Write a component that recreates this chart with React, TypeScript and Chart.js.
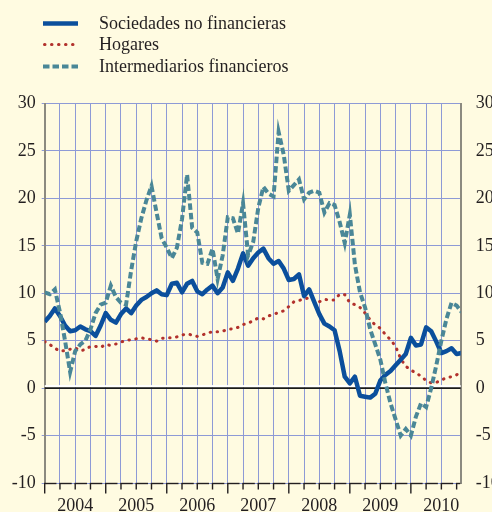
import React, { useEffect, useRef } from "react";
import { Chart, registerables } from "chart.js";

Chart.register(...registerables);

// Month index since January 2004 (0 = Jan 2004)
const months: number[] = Array.from({ length: 83 }, (_, i) => i);
const years = ["2004", "2005", "2006", "2007", "2008", "2009", "2010"];

const sociedades = [
  7.0, 7.6, 8.4, 7.6, 6.6, 6.0, 6.1, 6.5, 6.2, 6.0,
  5.5, 6.6, 7.9, 7.2, 6.9, 7.8, 8.4, 7.9, 8.7, 9.3,
  9.6, 10.0, 10.3, 9.9, 9.8, 11.0, 11.1, 10.1, 11.0, 11.3,
  10.2, 9.9, 10.4, 10.8, 10.0, 10.6, 12.2, 11.3, 12.6, 14.2,
  12.9, 13.7, 14.3, 14.7, 13.7, 13.1, 13.4, 12.6, 11.4, 11.5,
  12.0, 9.7, 10.4, 9.1, 7.8, 6.8, 6.5, 6.1, 3.9, 1.2,
  0.5, 1.2, -0.8, -0.9, -1.0, -0.6, 0.8, 1.4, 1.8, 2.4,
  3.0, 3.6, 5.3, 4.5, 4.6, 6.4, 6.0, 4.9, 3.7, 3.9,
  4.2, 3.6, 3.7,
];

const hogares = [
  4.9, 4.6, 4.2, 3.9, 3.95, 4.1, 4.25, 3.95, 4.05, 4.4,
  4.4, 4.3, 4.6, 4.5, 4.65, 4.85, 5.05, 5.1, 5.2, 5.3,
  5.2, 5.1, 4.95, 5.25, 5.3, 5.3, 5.4, 5.6, 5.7, 5.6,
  5.45, 5.6, 5.8, 5.95, 5.95, 6.0, 6.2, 6.25, 6.4, 6.7,
  6.85, 7.1, 7.4, 7.3, 7.6, 7.8, 7.95, 8.15, 8.6, 9.1,
  9.25, 9.35, 9.55, 9.3, 9.1, 9.35, 9.3, 9.3, 9.9, 9.85,
  9.0, 8.8, 8.5, 7.9, 7.2, 6.65, 6.3, 5.65, 5.1, 4.4,
  3.1, 2.3, 1.9, 1.6, 1.25, 0.8, 0.55, 0.6, 0.85, 1.1,
  1.2, 1.4, 1.8,
];

const intermediarios = [
  10.1, 9.9, 10.4, 8.0, 5.0, 1.7, 3.9, 4.6, 5.0, 6.2,
  7.9, 8.8, 9.0, 10.8, 9.6, 9.0, 8.8, 12.4, 15.5, 17.9,
  19.8, 21.3, 18.5, 15.8, 14.8, 13.7, 14.8, 17.8, 22.5, 16.9,
  16.4, 13.2, 13.1, 14.7, 11.5, 14.0, 18.0, 17.9, 16.3, 19.5,
  14.0, 15.4, 19.0, 21.2, 20.5, 20.2, 27.0, 24.6, 20.8, 21.4,
  22.0, 19.9, 20.6, 20.8, 20.6, 18.5, 19.5, 19.3, 17.5, 15.3,
  18.3, 13.0, 10.1, 8.5, 6.2, 4.6, 3.0, 0.5, -1.6, -3.3,
  -5.0, -4.3, -5.0, -3.0, -1.6, -2.0, 0.0, 2.4, 5.0, 7.3,
  9.0, 8.7, 8.0,
];

const BG = "#fffbe1";
const GRID = "#8e9ad6";
const AXIS_GRAY = "#8c8a80";
const TEXT = "#231f20";
const BLUE = "#0b4f9c";
const RED = "#b2312c";
const TEAL = "#4a8797";
const FONT = "'Liberation Serif', 'Times New Roman', serif";

const decorPlugin = {
  id: "decor",
  beforeDatasetsDraw(chart: any) {
    const { ctx, chartArea, scales } = chart;
    const y0 = scales.y.getPixelForValue(0);
    ctx.save();
    ctx.fillStyle = "#ffffff";
    ctx.fillRect(chartArea.left, y0 - 3, chartArea.right - chartArea.left, 2.2);
    ctx.strokeStyle = "#1a1a1a";
    ctx.lineWidth = 1.6;
    ctx.beginPath();
    ctx.moveTo(chartArea.left, y0);
    ctx.lineTo(chartArea.right, y0);
    ctx.stroke();
    ctx.restore();
  },
  afterDraw(chart: any) {
    const { ctx, chartArea, scales } = chart;
    const xs = scales.x;
    ctx.save();
    ctx.strokeStyle = TEXT;
    ctx.lineWidth = 1.4;
    const b = chartArea.bottom + 0.5;
    for (let q = 0; q <= 27; q++) {
      const px = xs.getPixelForValue(q * 3);
      const len = q % 4 === 0 ? 10 : 6;
      ctx.beginPath();
      ctx.moveTo(px, b);
      ctx.lineTo(px, b + len);
      ctx.stroke();
      const next = q < 27 ? xs.getPixelForValue(q * 3 + 3) : chartArea.right + 3;
      ctx.beginPath();
      ctx.moveTo(px - 0.7, b);
      ctx.lineTo(Math.min(next - 3.5, chartArea.right), b);
      ctx.stroke();
    }
    ctx.restore();

    // legend
    const order = [1, 2, 0];
    const rows = [23.5, 44.5, 66.5];
    ctx.save();
    order.forEach((di, k) => {
      const ds = chart.data.datasets[di];
      const y = rows[k];
      ctx.strokeStyle = ds.borderColor;
      ctx.lineWidth = ds.borderWidth;
      ctx.lineCap = ds.borderCapStyle || "butt";
      ctx.setLineDash(ds.borderDash || []);
      ctx.beginPath();
      ctx.moveTo(ds.legendStart, y);
      ctx.lineTo(78, y);
      ctx.stroke();
      ctx.setLineDash([]);
      ctx.fillStyle = TEXT;
      ctx.font = `18px ${FONT}`;
      ctx.textAlign = "left";
      ctx.textBaseline = "middle";
      ctx.fillText(ds.label, 99, y + 1);
    });
    ctx.restore();
  },
};

export default function App() {
  const ref = useRef<HTMLCanvasElement | null>(null);

  useEffect(() => {
    if (!ref.current) return;
    const chart = new Chart(ref.current, {
      type: "line",
      data: {
        labels: months,
        datasets: [
          {
            label: "Intermediarios financieros",
            data: intermediarios,
            borderColor: TEAL,
            borderWidth: 4,
            borderDash: [6.5, 3],
            pointRadius: 0,
            tension: 0,
            fill: false,
            clip: 0,
            legendStart: 43,
          } as any,
          {
            label: "Sociedades no financieras",
            data: sociedades,
            borderColor: BLUE,
            borderWidth: 4.5,
            borderJoinStyle: "round",
            pointRadius: 0,
            tension: 0,
            fill: false,
            clip: 0,
            legendStart: 43,
          } as any,
          {
            label: "Hogares",
            data: hogares,
            borderColor: RED,
            borderWidth: 3,
            borderDash: [0.5, 6.5],
            borderCapStyle: "round",
            pointRadius: 0,
            tension: 0,
            fill: false,
            clip: 0,
            legendStart: 44.5,
          } as any,
        ],
      },
      options: {
        responsive: false,
        animation: false,
        devicePixelRatio: 1,
        layout: { padding: { top: 103.5, left: 0, right: 0, bottom: 0 } },
        plugins: {
          legend: { display: false },
          tooltip: { enabled: false },
        },
        scales: {
          x: {
            type: "linear",
            min: 0,
            max: 81.8,
            afterFit: (s: any) => {
              s.height = 29;
            },
            ticks: {
              stepSize: 3,
              autoSkip: false,
              maxRotation: 0,
              padding: 12,
              color: TEXT,
              font: { family: FONT, size: 18 },
              callback: (v: any) => {
                const m = Number(v);
                if (m >= 6 && (m - 6) % 12 === 0) return years[(m - 6) / 12] ?? "";
                return "";
              },
            },
            grid: {
              color: GRID,
              lineWidth: 1,
              drawTicks: false,
            },
            border: { display: false },
          },
          y: {
            position: "left",
            min: -10,
            max: 30,
            afterFit: (s: any) => {
              s.width = 44.7;
            },
            ticks: {
              stepSize: 5,
              padding: 6,
              color: TEXT,
              font: { family: FONT, size: 18 },
            },
            grid: {
              color: (c: any) => (c.tick && c.tick.value === 0 ? "rgba(0,0,0,0)" : GRID),
              lineWidth: 1,
              tickLength: 3,
              tickColor: GRID,
            },
            border: { display: true, color: AXIS_GRAY, width: 2 },
          },
          y2: {
            position: "right",
            min: -10,
            max: 30,
            afterFit: (s: any) => {
              s.width = 31.3;
            },
            ticks: {
              stepSize: 5,
              padding: 15,
              color: TEXT,
              font: { family: FONT, size: 18 },
            },
            grid: { drawOnChartArea: false, drawTicks: false },
            border: { display: true, color: AXIS_GRAY, width: 2 },
          },
        },
      },
      plugins: [decorPlugin],
    });
    return () => chart.destroy();
  }, []);

  return (
    <div
      style={{
        position: "fixed",
        left: 0,
        top: 0,
        width: 492,
        height: 512,
        background: BG,
        overflow: "hidden",
      }}
    >
      <canvas ref={ref} width={492} height={512} style={{ display: "block" }} />
    </div>
  );
}
